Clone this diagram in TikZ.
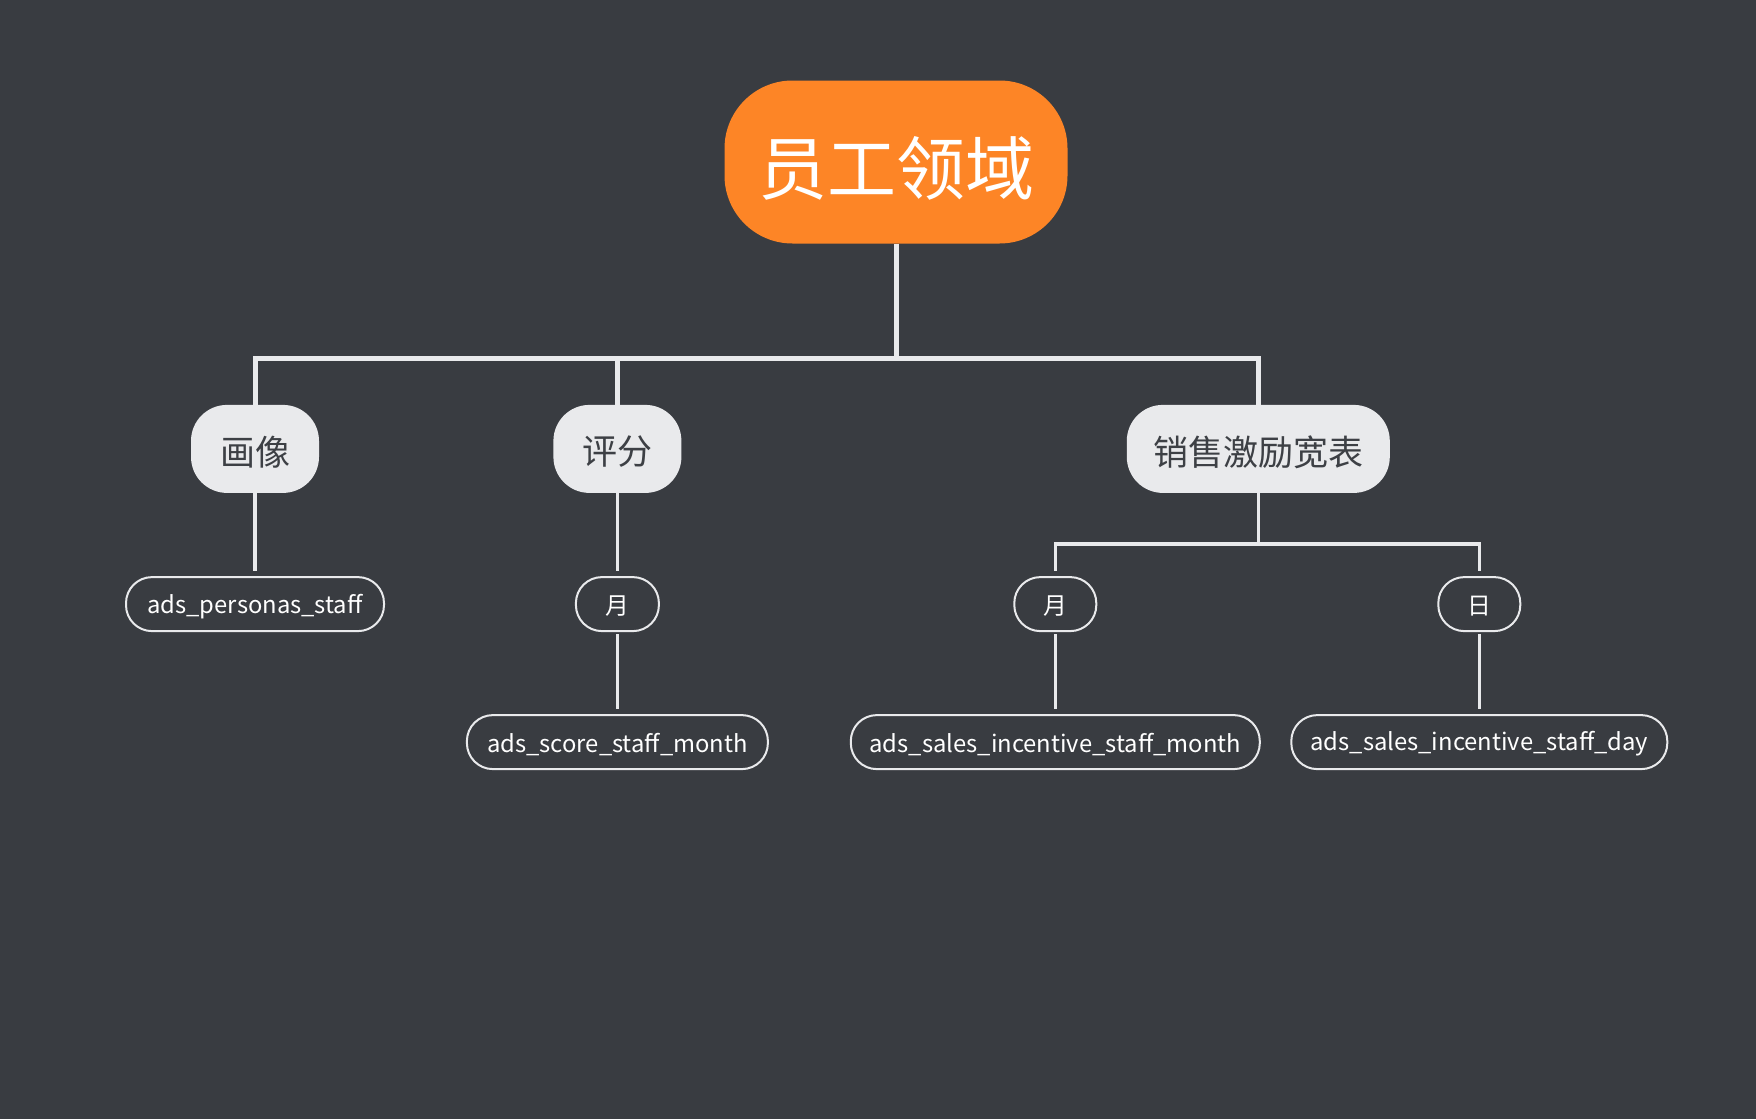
\documentclass[tikz,border=0pt]{standalone}
\usepackage{fontspec}
\setmainfont{Noto Sans CJK SC}
\usepackage{tikz}
\usetikzlibrary{positioning}
\definecolor{bgdark}{HTML}{393C41}
\definecolor{rootorange}{HTML}{FD8526}
\definecolor{paleGray}{HTML}{E9EAEC}
\definecolor{inkGray}{HTML}{3D4045}
\newcommand{\sink}[2]{\raisebox{-#1}[\height][\depth]{#2}}

\begin{document}
\begin{tikzpicture}[x=1pt, y=-1pt,
    topic/.style={fill=rootorange, text=white, rounded corners=68pt, minimum width=343pt, minimum height=163pt, inner sep=0pt, font=\fontsize{69}{80}\selectfont},
    branch/.style={fill=paleGray, text=inkGray, rounded corners=36pt, minimum height=88pt, inner sep=0pt, font=\fontsize{35}{40}\selectfont},
    leaf/.style={draw=paleGray, line width=2pt, text=white, rounded corners=26pt, minimum height=54pt, inner sep=0pt, font=\fontsize{23.8}{30}\selectfont},
    link/.style={draw=paleGray, line width=5pt},
    twig/.style={draw=paleGray, line width=3.5pt}]
    \fill [bgdark] (0,0) rectangle (1756,1119);
    \useasboundingbox (0,0) rectangle (1756,1119);
    \node [topic] (root) at (896,162) {\sink{6pt}{员工领域}};
    \node [branch, minimum width=128pt, below=161pt of root, xshift=-641pt] (portrait) {\sink{3pt}{画像}};
    \node [branch, minimum width=128pt, right=234pt of portrait] (score) {\sink{3pt}{评分}};
    \node [branch, minimum width=263pt, right=445pt of score] (sales) {\sink{3pt}{销售激励宽表}};
    \node [leaf, minimum width=258pt, below=83pt of portrait] (personas) {\sink{2pt}{ads\_personas\_staff}};
    \node [leaf, minimum width=83pt, below=83pt of score] (scoremonth) {\sink{2pt}{月}};
    \node [leaf, minimum width=301pt, below=82pt of scoremonth] (scoretable) {\sink{2pt}{ads\_score\_staff\_month}};
    \node [leaf, minimum width=82pt, below=83pt of sales, xshift=-203pt] (salesmonth) {\sink{2pt}{月}};
    \node [leaf, minimum width=82pt, below=83pt of sales, xshift=221pt] (salesday) {\sink{2pt}{日}};
    \node [leaf, minimum width=409pt, below=82pt of salesmonth] (salesmonthtable) {\sink{2pt}{ads\_sales\_incentive\_staff\_month}};
    \node [leaf, minimum width=376pt, below=82pt of salesday] (salesdaytable) {\sink{2pt}{ads\_sales\_incentive\_staff\_day}};
    % top level
    \coordinate [below=115pt of root.south] (bus);
    \draw [link] (root.south) -- (bus);
    \draw [link] (bus) -| (portrait.north);
    \draw [link] (bus) -| (score.north);
    \draw [link] (bus) -| (sales.north);
    % second level
    \draw [twig, shorten >=5pt] (portrait.south) -- (personas.north);
    \draw [twig, shorten >=5pt] (score.south) -- (scoremonth.north);
    \draw [twig, shorten <=2pt, shorten >=5pt] (scoremonth.south) -- (scoretable.north);
    \coordinate [below=51pt of sales.south] (salesbus);
    \draw [twig] (sales.south) -- (salesbus);
    \draw [twig, shorten >=5pt] (salesbus) -| (salesmonth.north);
    \draw [twig, shorten >=5pt] (salesbus) -| (salesday.north);
    \draw [twig, shorten <=2pt, shorten >=5pt] (salesmonth.south) -- (salesmonthtable.north);
    \draw [twig, shorten <=2pt, shorten >=5pt] (salesday.south) -- (salesdaytable.north);
\end{tikzpicture}
\end{document}
